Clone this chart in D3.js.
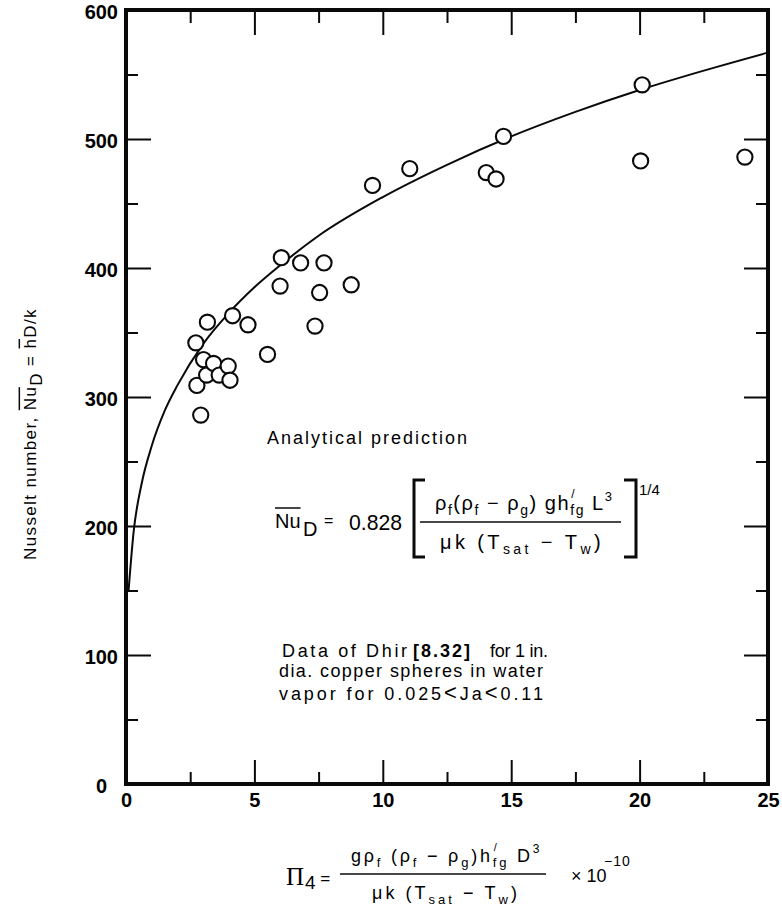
<!DOCTYPE html>
<html><head><meta charset="utf-8">
<script src="https://cdn.jsdelivr.net/npm/d3@7"></script>
<style>
body{margin:0;background:#fff;}
svg{display:block;background:#fff;}
text{font-family:"Liberation Sans",Arial,Helvetica,sans-serif;fill:#000;}
</style></head><body>
<svg id="c" width="782" height="914"></svg>
<script>
// ---- data ----
const xMajorTicks=[0,5,10,15,20,25];
const xMinorTicks=[2.5,7.5,12.5,17.5,22.5];
const yMajorTicks=[0,100,200,300,400,500,600];
const yMinorTicks=[50,150,250,350,450,550];
// Dhir data (Pi4 x 1e-10, Nu_D)
const dataPi=[2.72,2.76,2.91,3.02,3.14,3.17,3.41,3.63,3.98,4.05,4.15,4.75,5.51,6.00,6.05,6.80,7.36,7.54,7.71,8.77,9.6,11.05,14.03,14.41,14.70,20.04,20.10,24.10];
const dataNu=[342,309,286,329,317,358,326,317,324,313,363,356,333,386,408,404,355,381,404,387,464,477,474,469,502,483,542,486];
// analytical prediction curve
const curvePi=[0.1,0.3,0.6,1,1.5,2,3,4,5,6,7.5,10,12.5,15,17.5,20,22.5,25];
const curveNu=[150,196,232,262,289,309,341,365,385,402,425,455,480,502,521,538,553,567];

const svg=d3.select("#c");
const X=d3.scaleLinear().domain([0,25]).range([126,768]);
const Y=d3.scaleLinear().domain([0,600]).range([784,10]);
const INK="#0a0a0a";

// ---- frame ----
svg.append("rect").attr("x",X(0)).attr("y",Y(600)).attr("width",X(25)-X(0)).attr("height",Y(0)-Y(600))
  .attr("fill","none").attr("stroke",INK).attr("stroke-width",4);

function styleAxis(g){
  g.select(".domain").remove();
  g.selectAll(".tick line").attr("stroke",INK).attr("stroke-width",2);
  g.selectAll(".tick text").style("font-size","20px").style("font-weight","bold").attr("fill",INK);
}
// bottom
svg.append("g").attr("transform",`translate(0,${Y(0)})`)
  .call(d3.axisBottom(X).tickValues(xMajorTicks).tickSize(-24).tickPadding(9).tickFormat(d3.format("d"))).call(styleAxis);
svg.append("g").attr("transform",`translate(0,${Y(0)})`)
  .call(d3.axisBottom(X).tickValues(xMinorTicks).tickSize(-12).tickFormat("")).call(styleAxis);
// top
svg.append("g").attr("transform",`translate(0,${Y(600)})`)
  .call(d3.axisTop(X).tickValues(xMajorTicks).tickSize(-25).tickFormat("")).call(styleAxis);
svg.append("g").attr("transform",`translate(0,${Y(600)})`)
  .call(d3.axisTop(X).tickValues(xMinorTicks).tickSize(-13).tickFormat("")).call(styleAxis);
// left
const yl=svg.append("g").attr("transform",`translate(${X(0)},0)`)
  .call(d3.axisLeft(Y).tickValues(yMajorTicks).tickSize(-25).tickPadding(8).tickFormat(d3.format("d"))).call(styleAxis);
yl.selectAll(".tick text").attr("dy","0.42em").filter(d=>d===0).attr("x",-19);
svg.append("g").attr("transform",`translate(${X(0)},0)`)
  .call(d3.axisLeft(Y).tickValues(yMinorTicks).tickSize(-12).tickFormat("")).call(styleAxis);
// right
svg.append("g").attr("transform",`translate(${X(25)},0)`)
  .call(d3.axisRight(Y).tickValues(yMajorTicks).tickSize(-24).tickFormat("")).call(styleAxis);
svg.append("g").attr("transform",`translate(${X(25)},0)`)
  .call(d3.axisRight(Y).tickValues(yMinorTicks).tickSize(-12).tickFormat("")).call(styleAxis);

// ---- curve ----
const curvePts=curvePi.map((p,i)=>[p,curveNu[i]]);
svg.append("path").datum(curvePts)
  .attr("d",d3.line().x(d=>X(d[0])).y(d=>Y(d[1])).curve(d3.curveMonotoneX))
  .attr("fill","none").attr("stroke",INK).attr("stroke-width",2);

// ---- data points ----
svg.append("g").selectAll("circle").data(dataPi.map((p,i)=>[p,dataNu[i]])).join("circle")
  .attr("cx",d=>X(d[0])).attr("cy",d=>Y(d[1])).attr("r",7.6)
  .attr("fill","#fff").attr("stroke",INK).attr("stroke-width",2.1);

// ---- math text helpers ----
function runParts(g,x,y,parts,opt){
  let cx=x, chars=0;
  const ls=opt.ls||0;
  parts.forEach(p=>{
    const size=p.size||opt.size;
    const px=cx+(p.dx||0), py=y+(p.dy||0);
    const t=g.append("text").attr("x",px).attr("y",py)
      .style("font-size",size+"px").style("letter-spacing",ls+"px").text(p.t);
    if(p.font) t.style("font-family",p.font);
    if(p.italic) t.style("font-style","italic");
    if(p.bold) t.style("font-weight","bold");
    const w=t.node().getComputedTextLength();
    chars+=p.t.length;
    if(p.over){
      const oy=py-size*p.over;
      g.append("line").attr("x1",px).attr("x2",px+w-ls).attr("y1",oy).attr("y2",oy)
        .attr("stroke",INK).attr("stroke-width",1.5);
    }
    if(!p.noAdv) cx=px+w;
  });
  return {width:cx-x,chars};
}
function fitParts(g,x,y,parts,size,target){
  const tmp=g.append("g");
  const m=runParts(tmp,x,y,parts,{size});
  tmp.remove();
  const ls=target?(target-m.width)/m.chars:0;
  const gg=g.append("g");
  runParts(gg,x,y,parts,{size,ls});
  return gg;
}
const NB="\u00a0";
const SERIF="'Liberation Serif','Times New Roman',serif";

// ---- y axis title ----
const yt=svg.append("g").attr("transform","translate(36,434) rotate(-90)");
fitParts(yt,-126,0,[
  {t:"Nusselt number,"+NB},
  {t:"Nu",over:0.98},
  {t:"D",dy:6},
  {t:NB+"="+NB},
  {t:"h",over:0.98},
  {t:"D/k"}
],17,252);

// ---- x axis title ----
const xt=svg.append("g");
runParts(xt,286,885,[
  {t:"Π",font:SERIF,size:25},{t:"4",size:19,dy:4,dx:1},{t:NB+"=",size:17,dy:-1}
],{size:18});
xt.append("line").attr("x1",340).attr("x2",546).attr("y1",874).attr("y2",874).attr("stroke",INK).attr("stroke-width",1.4);
fitParts(xt,351,862,[
  {t:"gρ"},{t:"f",size:13,dy:5},{t:NB+"(ρ"},{t:"f",size:13,dy:5},{t:NB+"−"+NB+"ρ"},{t:"g",size:13,dy:5},
  {t:")h"},{t:"/",size:11,dy:-11,dx:1,noAdv:true},{t:"fg",size:13,dy:5},{t:NB+"D"},{t:"3",size:12,dy:-9}
],18,194);
fitParts(xt,372,899,[
  {t:"μk"+NB+"(T"},{t:"sat",size:13,dy:5},{t:NB+"−"+NB+"T"},{t:"w",size:13,dy:5},{t:")"}
],18,148);
xt.append("text").attr("x",571).attr("y",882).style("font-size","18px").text("×"+NB+"10");
xt.append("text").attr("x",604).attr("y",866).style("font-size","14px").style("letter-spacing","1px").text("−10");

// ---- annotations ----
const an=svg.append("g");
an.append("text").attr("x",267).attr("y",444).style("font-size","18px")
  .attr("textLength",200).attr("lengthAdjust","spacing").text("Analytical prediction");

// formula
runParts(an,275,528,[{t:"Nu",over:1.0}],{size:20});
an.append("text").attr("x",303).attr("y",536).style("font-size","20px").text("D");
an.append("text").attr("x",324).attr("y",526).style("font-size","16px").text("=");
an.append("text").attr("x",349).attr("y",530).style("font-size","22px").attr("textLength",53).attr("lengthAdjust","spacingAndGlyphs").text("0.828");
an.append("path").attr("d","M425,480H414V557H425").attr("fill","none").attr("stroke",INK).attr("stroke-width",3);
an.append("path").attr("d","M624,480H636V557H624").attr("fill","none").attr("stroke",INK).attr("stroke-width",3);
an.append("line").attr("x1",420).attr("x2",621).attr("y1",522).attr("y2",522).attr("stroke",INK).attr("stroke-width",1.4);
fitParts(an,435,510,[
  {t:"ρ"},{t:"f",size:14,dy:5},{t:"(ρ"},{t:"f",size:14,dy:5},{t:NB+"−"+NB+"ρ"},{t:"g",size:14,dy:5},
  {t:")"+NB+"gh"},{t:"/",size:12,dy:-12,dx:1,noAdv:true},{t:"fg",size:14,dy:5},{t:NB+"L"},{t:"3",size:13,dy:-9}
],20,180);
fitParts(an,440,549,[
  {t:"μk"+NB+"(T"},{t:"sat",size:14,dy:5},{t:NB+"−"+NB+"T"},{t:"w",size:14,dy:5},{t:")"}
],20,164);
an.append("text").attr("x",639).attr("y",495).style("font-size","15px").text("1/4");

// data description
an.append("text").attr("x",282).attr("y",657).style("font-size","18px").attr("textLength",125).attr("lengthAdjust","spacing").text("Data of Dhir");
an.append("text").attr("x",413).attr("y",657).style("font-size","18px").style("font-weight","bold").attr("textLength",57).attr("lengthAdjust","spacing").text("[8.32]");
an.append("text").attr("x",490).attr("y",657).style("font-size","18px").attr("textLength",58).attr("lengthAdjust","spacing").text("for 1 in.");
an.append("text").attr("x",279).attr("y",677).style("font-size","18px").attr("textLength",264).attr("lengthAdjust","spacing").text("dia. copper spheres in water");
const l3=an.append("text").attr("x",279).attr("y",700).style("font-size","18px")
  .attr("textLength",264).attr("lengthAdjust","spacing");
l3.append("tspan").text("vapor for 0.025");
l3.append("tspan").style("font-size","22px").text("<");
l3.append("tspan").text("Ja");
l3.append("tspan").style("font-size","22px").text("<");
l3.append("tspan").text("0.11");
</script>
</body></html>
